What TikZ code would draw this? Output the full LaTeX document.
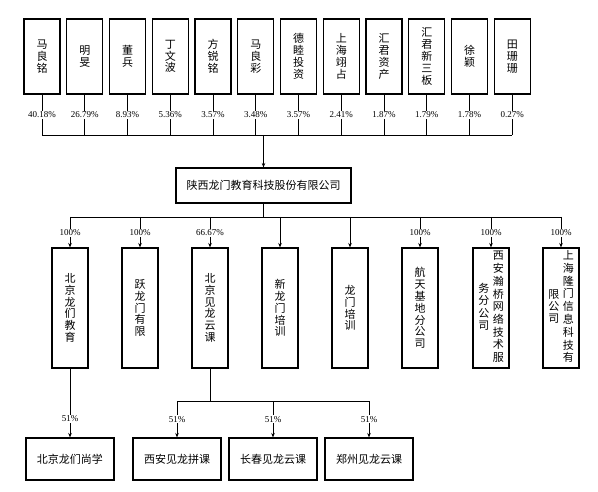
\documentclass[tikz,border=0pt]{standalone}
\usepackage{fontspec}
\setmainfont{Liberation Serif}
\newfontfamily\cjk{Noto Sans CJK SC}
\usetikzlibrary{arrows.meta, positioning, calc}

\newcommand{\vcol}[1]{\begin{tabular}[c]{@{}c@{}}#1\end{tabular}}

\tikzset{
  box/.style={draw, line width=1.1pt, inner sep=0pt, align=center,
    font=\cjk\fontsize{11}{11.8}\selectfont},
  holder/.style={box, minimum width=36pt, minimum height=75pt},
  sub/.style={box, minimum width=36pt, minimum height=120pt},
  small/.style={box, minimum width=88pt, minimum height=42pt},
  pct/.style={fill=white, inner sep=1pt, font=\fontsize{9}{10}\selectfont},
}

\begin{document}
\begin{tikzpicture}[x=1pt, y=-1pt, >={Stealth[length=4.5pt,width=3.5pt]}, line width=0.8pt]
    \useasboundingbox (0,0) rectangle (598,492);
    % Shareholders
    \coordinate (tb) at (263.5,135);
    \foreach \i/\name/\p in {1/马\\良\\铭/40.18\%, 2/明\\旻/26.79\%, 3/董\\兵/8.93\%,
        4/丁\\文\\波/5.36\%, 5/方\\锐\\铭/3.57\%, 6/马\\良\\彩/3.48\%,
        7/德\\睦\\投\\资/3.57\%, 8/上\\海\\翊\\占/2.41\%, 9/汇\\君\\资\\产/1.87\%,
        10/汇\\君\\新\\三\\板/1.79\%, 11/徐\\颖/1.78\%, 12/田\\珊\\珊/0.27\%} {
        \node[holder] (s\i) at ({42+42.75*(\i-1)},56.5) {\name};
        \draw (s\i.south) -- (s\i.south |- tb) node[midway, pct] (sp\i) {\p};
    }
    \draw (s1.south |- tb) -- (s12.south |- tb);
    % Company
    \node[box, minimum width=175pt, minimum height=35pt] (main) at (263.5,185.5)
        {陕西龙门教育科技股份有限公司};
    \draw[->] (tb) -- (main);
    % Subsidiaries
    \coordinate (mb) at (263.5,217);
    \node[sub] (c1) at (70,308) {北\\京\\龙\\们\\教\\育};
    \node[sub] (c2) at (140,308) {跃\\龙\\门\\有\\限};
    \node[sub] (c3) at (210,308) {北\\京\\见\\龙\\云\\课};
    \node[sub] (c4) at (280,308) {新\\龙\\门\\培\\训};
    \node[sub] (c5) at (350,308) {龙\\门\\培\\训};
    \node[sub] (c6) at (420,308) {航\\天\\基\\地\\分\\公\\司};
    \node[sub] (c7) at (491,308) {\vcol{务\\分\\公\\司}\hspace{3.5pt}\vcol{西\\安\\瀚\\桥\\网\\络\\技\\术\\服}};
    \node[sub] (c8) at (561,308) {\vcol{限\\公\\司}\hspace{3.5pt}\vcol{上\\海\\隆\\门\\信\\息\\科\\技\\有}};
    \draw (main) -- (mb);
    \draw (c1.north |- mb) -- (c8.north |- mb);
    \foreach \i in {1,...,8}
        \draw[->] (c\i.north |- mb) -- (c\i.north);
    \foreach \i/\p in {1/100\%, 2/100\%, 3/66.67\%, 6/100\%, 7/100\%, 8/100\%}
        \node[pct] (cp\i) at (c\i.north |- 0,233) {\p};
    % Second level
    \node[small] (b1) at (70,459) {北京龙们尚学};
    \node[small] (b2) at (177,459) {西安见龙拼课};
    \node[small] (b3) at (273,459) {长春见龙云课};
    \node[small] (b4) at (369,459) {郑州见龙云课};
    \draw[->] (c1) -- (b1) node[pos=0.73, pct] (bp1) {51\%};
    \coordinate (kb) at (210,401);
    \draw (c3) -- (kb);
    \draw (b2.north |- kb) -- (b4.north |- kb);
    \foreach \i in {2,3,4}
        \draw[->] (b\i.north |- kb) -- (b\i.north) node[midway, pct] (bp\i) {51\%};
\end{tikzpicture}
\end{document}
